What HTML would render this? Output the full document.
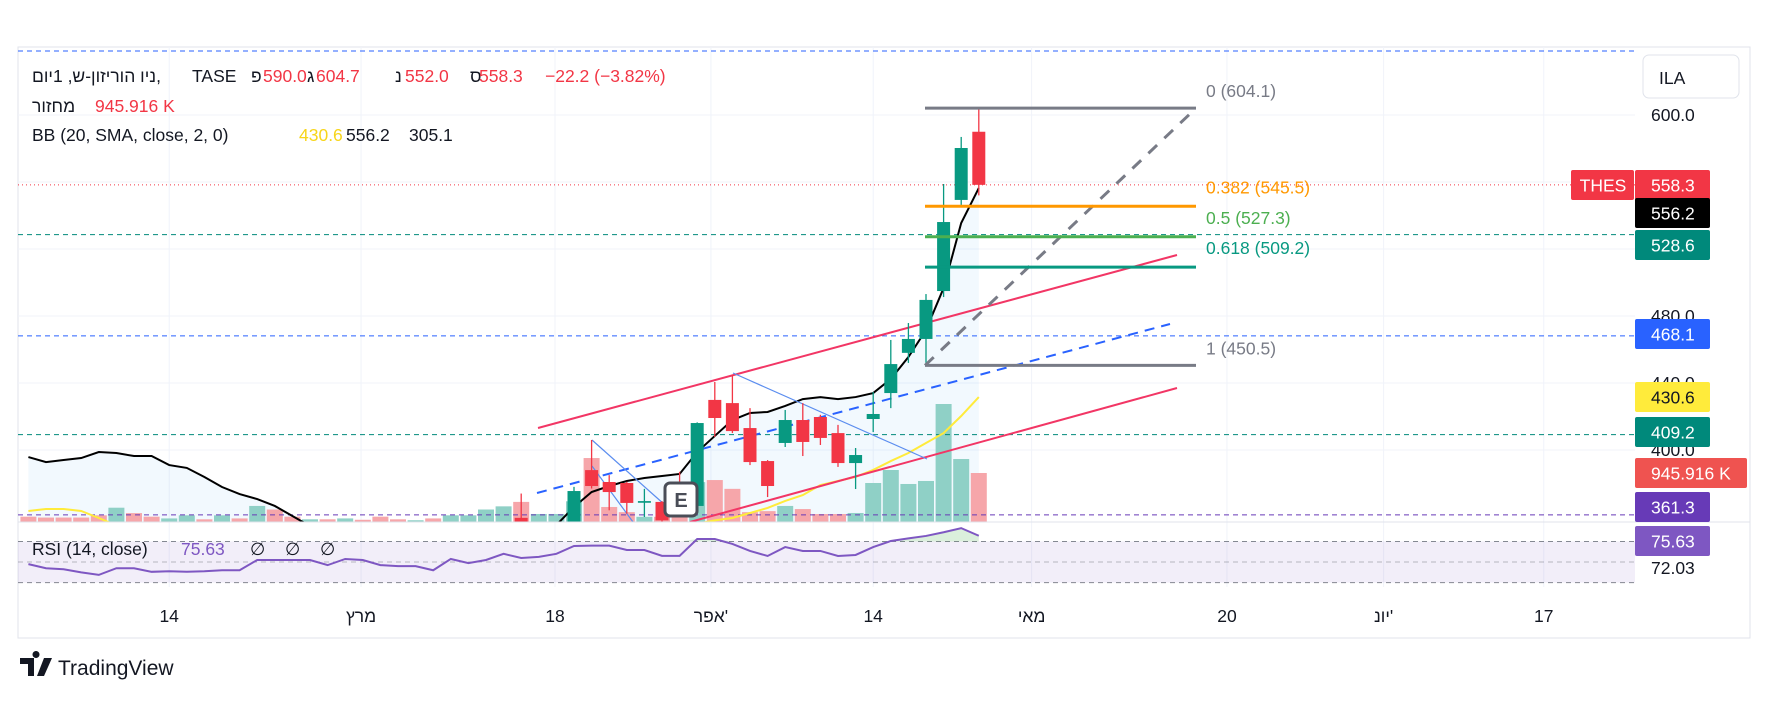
<!DOCTYPE html>
<html><head><meta charset="utf-8">
<style>
html,body{margin:0;padding:0;background:#fff;}
svg{display:block;font-family:"Liberation Sans","DejaVu Sans",sans-serif;}
</style></head>
<body>
<svg id="chart" width="1770" height="702" viewBox="0 0 1770 702" xmlns="http://www.w3.org/2000/svg">
<defs>
<clipPath id="mainClip"><rect x="18" y="47" width="1617" height="475"/></clipPath>
<clipPath id="rsiClip"><rect x="18" y="522" width="1617" height="65"/></clipPath>
</defs>
<rect x="18" y="47" width="1732" height="591" fill="#fff" stroke="#e0e3eb" stroke-width="1"/>
<g id="grid"></g>
<g id="rsiPane" clip-path="url(#rsiClip)"></g>
<g id="main" clip-path="url(#mainClip)"></g>
<line x1="18" y1="522" x2="1750" y2="522" stroke="#e0e3eb"/>
<g id="axis"></g>
<g id="timeAxis"></g>

<g font-size="17.5">
<text x="32" y="82" fill="#131722"><tspan>ניו הוריזון-ש, 1יום,</tspan><tspan x="192">TASE</tspan></text>
<text y="82" fill="#131722"><tspan x="251">פ</tspan><tspan x="263" fill="#f23645">590.0</tspan><tspan x="307">ג</tspan><tspan x="316" fill="#f23645">604.7</tspan><tspan x="395">נ</tspan><tspan x="405" fill="#f23645">552.0</tspan><tspan x="470">ס</tspan><tspan x="479" fill="#f23645">558.3</tspan><tspan x="545" fill="#f23645">−22.2 (−3.82%)</tspan></text>
<text x="32" y="112" fill="#131722">מחזור<tspan x="95" fill="#f23645">945.916 K</tspan></text>
<text x="32" y="141" fill="#131722">BB (20, SMA, close, 2, 0)<tspan x="299" fill="#f7d51a">430.6</tspan><tspan x="346">556.2</tspan><tspan x="409">305.1</tspan></text>
<text x="32" y="555" fill="#131722">RSI (14, close)<tspan x="181" fill="#7e57c2">75.63</tspan><tspan x="250">∅</tspan><tspan x="285">∅</tspan><tspan x="320">∅</tspan></text>
</g>

<g>
<path d="M20 658 h14 v18 h-6 v-12 h-8z M36 658 a3.5 3.5 0 1 1 0.01 0z M44 658 h8 l-8 18 h-7z" fill="#131722"/>
<text x="58" y="675" font-size="21" fill="#131722">TradingView</text>
</g>
</svg>
<script>
// ---- data ----
const opens  = [342,341,340,339,338,335,339,337,334,336,339,337,340,338,344,340,337,338,336,338,336,334,333,334,332,335,338,343,359.5,352,354,
  357,388,380.9,380.3,368.5,369,372,366.6,429.9,428,413.1,393.4,404.2,417.9,419.7,410.1,392.2,418.5,434,458,466.3,494.9,549.3,590];
const highs  = [344,343,342,341,340,341,341,339,338,341,341,342,342,346,346,342,340,340,340,340,338,336,336,336,337,340,345,352,374,356,356,
  378,406,385,381,376.8,369.5,387,416.5,440.6,444.8,425,394,423.9,428,421,415,401.2,434.6,465.7,475.8,493.1,558.8,586.9,604.7];
const lows   = [338,337,336,335,333,333,334,332,332,334,335,335,336,336,338,335,335,334,334,334,332,331,331,330,330,333,336,341,352,350,352,
  355,377,364,362,360,356,360,364,407.8,410.1,391,371.9,401.8,396.4,403,389.9,376.7,410.7,425,452,452,491.3,546.3,552];
const closes = [340,339,338,337,335,339,336,334,336,339,337,340,338,344,340,337,338,336,338,336,334,333,334,332,335,338,343,350,356,354,355,
  375.5,378.5,374.9,368.4,369.5,358,365,416.1,419.1,411.3,392.8,378.5,417.9,404.8,407.2,392.2,397,421.5,451.3,466.3,489.6,536.1,580.3,558.3];
const volumes = [103,86,86,86,129,276,172,103,69,129,52,129,69,310,241,103,52,52,69,43,103,52,34,69,129,129,241,302,388,155,155,
  400,1235,290,190,100,100,290,770,810,640,190,210,310,250,154,154,174,753,1004,734,792,2278,1216,946];
const bbUpper = [395.8,392.8,394,395.2,398.8,398.2,396.4,396.4,391,389.3,383.9,377.9,373.7,370.7,366.6,360.6,354.6,350,345,342,340,338,337,336,336,337,339,342,346,350,355.2,
  366,374.9,378.5,381.5,383.3,384.5,385.7,398.8,408.4,417.9,422.1,422.7,426.3,430.4,431.6,430.4,431.6,434,442.4,455.5,471.6,496.7,535.5,556.4];
const bbBasis = [363.6,364.8,364.8,363.6,359.4,355,352,349,347,345,343,341,340,339,338,337,336,335,335,334,334,334,334,335,335,336,337,338,339,340,342,344,346,348,350,352,354,355,356,
  358,359.4,362.4,365.4,369.6,373.1,379.1,381.5,383.9,388.1,393.4,398.2,404.2,410.1,420.3,431.6];
const rsiValues = [48,44,43,40,37.5,44,44,40.5,41,40.5,41,42,42,52,52,52,52,47,53,52,47,46,46,42,53,49,52,58,54,55,58,
  65.6,66,66,61.7,61.7,56,56,72.4,72.4,67.6,60.8,55.9,64.6,60.8,60.8,55.9,56.9,64.6,70.5,73,75.4,79,83,75.6];
const priceTicks = [600,560,520,480,440,400];
const priceTickLabels = ["600.0","","","480.0","440.0","400.0"];
const timeTickPos = [-23,-12.1,-1.08,7.78,17,26,37.1,46,55.1];
const timeTickLabels = ["14","מרץ","18","אפר'","14","מאי","20","יונ'","17"];
const fibLevels = [604.1,545.5,527.3,509.2,450.5];
const fibRatios = ["0","0.382","0.5","0.618","1"];
const tagValues = ["558.3","556.2","528.6","468.1","430.6","409.2","945.916 K","361.3","75.63"];
const levelLines = [528.6,468.1,409.2,361.3];

// ---- scales ----
const FIRST = -31;
const AX = 1635;
function xOf(k){ return 574 + 17.6*(k + FIRST); }
function xIdx(i){ return 574 + 17.6*i; }
function yP(p){ return 115 + (600 - p)*1.675; }
function yV(v){ return 522 - v*0.0518; }
function yR(r){ return 541.5 + (70 - r)*1.0275; }

const NS = "http://www.w3.org/2000/svg";
function mk(tag, attrs, parent){
  const e = document.createElementNS(NS, tag);
  for (const a in attrs) e.setAttribute(a, attrs[a]);
  parent.appendChild(e);
  return e;
}
const gridG = document.getElementById('grid');
const mainG = document.getElementById('main');
const rsiG = document.getElementById('rsiPane');
const axisG = document.getElementById('axis');
const tAx = document.getElementById('timeAxis');

// grid
priceTicks.forEach(p => {
  const l = mk('line', {x1:18, x2:AX, y1:yP(p), y2:yP(p), stroke:'#f0f3fa', 'stroke-width':1}, gridG);
  
  
});
timeTickPos.forEach((t, j) => {
  const l = mk('line', {x1:xIdx(t), x2:xIdx(t), y1:47, y2:587, stroke:'#f0f3fa', 'stroke-width':1}, gridG);
  
  
  const tx = mk('text', {x:xIdx(t), y:622, 'font-size':17.5, fill:'#131722', 'text-anchor':'middle'}, tAx);
  tx.textContent = timeTickLabels[j];
  
  
});

// RSI pane
const rb = mk('rect', {x:18, y:yR(70), width:AX-18, height:yR(30)-yR(70), fill:'#7e57c2', 'fill-opacity':0.1}, rsiG);


[70,50,30].forEach(v => {
  const l = mk('line', {x1:18, x2:AX, y1:yR(v), y2:yR(v), stroke:'#787b86', 'stroke-dasharray':'5 4', 'stroke-opacity':v===50?0.5:0.9}, rsiG);
  
  
});
{
  let pts = [];
  rsiValues.forEach((r,k)=>{ if (k>0 && (r>70 || rsiValues[k-1]>70 || (k<rsiValues.length-1 && rsiValues[k+1]>70))) pts.push([xOf(k), yR(Math.max(r,70))]); });
  if (pts.length) {
    let d = 'M' + pts[0][0] + ' ' + yR(70);
    pts.forEach(p => d += ' L' + p[0] + ' ' + p[1]);
    d += ' L' + pts[pts.length-1][0] + ' ' + yR(70) + ' Z';
    const f = mk('path', {d:d, fill:'#4caf50', 'fill-opacity':0.2}, rsiG);
    
    
  }
}
const rsiPath = mk('path', {d: rsiValues.map((r,k)=>(k?'L':'M')+xOf(k)+' '+yR(r)).join(' '), fill:'none', stroke:'#7e57c2', 'stroke-width':2}, rsiG);



// Bollinger fill
const bbLower = bbBasis.map((b,k)=> 2*b - bbUpper[k]);
let fd = bbUpper.map((u,k)=>(k?'L':'M')+xOf(k)+' '+yP(u)).join(' ');
for (let k = bbLower.length-1; k >= 0; k--) fd += ' L' + xOf(k) + ' ' + yP(bbLower[k]);
fd += ' Z';
const bbFill = mk('path', {d:fd, fill:'#2196f3', 'fill-opacity':0.06}, mainG);



// volume
volumes.forEach((v,k)=>{
  const up = closes[k] >= opens[k];
  const r = mk('rect', {x:xOf(k)-8, y:yV(v), width:16, height:522-yV(v), fill: up ? '#8fd0c6' : '#f6a6aa'}, mainG);
  
  
});

// horizontal level lines
const topLine = mk('line', {x1:18, x2:AX, y1:51, y2:51, stroke:'#2962ff', 'stroke-dasharray':'5 4', 'stroke-width':1}, mainG);


const lvlColors = ['#00897b','#2962ff','#00897b','#673ab7'];
levelLines.forEach((p,j)=>{
  const l = mk('line', {x1:18, x2:AX, y1:yP(p), y2:yP(p), stroke:lvlColors[j], 'stroke-dasharray':'5 4', 'stroke-width':1}, mainG);
  
  
});
const lastLine = mk('line', {x1:18, x2:AX, y1:yP(closes[closes.length-1]), y2:yP(closes[closes.length-1]), stroke:'#f23645', 'stroke-dasharray':'1 3', 'stroke-width':1}, mainG);



// BB lines
const basisLine = mk('path', {d: bbBasis.map((b,k)=>(k?'L':'M')+xOf(k)+' '+yP(b)).join(' '), fill:'none', stroke:'#ffeb3b', 'stroke-width':2}, mainG);


const upperLine = mk('path', {d: bbUpper.map((b,k)=>(k?'L':'M')+xOf(k)+' '+yP(b)).join(' '), fill:'none', stroke:'#000', 'stroke-width':2}, mainG);



// drawings
function seg(x1,y1,x2,y2,st,w,dash,name){
  const a = {x1:x1,y1:y1,x2:x2,y2:y2,stroke:st,'stroke-width':w};
  if (dash) a['stroke-dasharray'] = dash;
  const l = mk('line', a, mainG);
  
  
}
seg(538,428,1177,255,'#f23665',2,null,'channel-upper');
seg(690,522,1177,388,'#f23665',2,null,'channel-lower');
seg(537,493,1170,324,'#2962ff',2,'10 7','channel-mid-dashed');
seg(592,440,665,505,'#5b8def',1.2,null,'trend-line-thin');
seg(592,466,633,522,'#5b8def',1.2,null,'trend-line-thin-2');
seg(733,373,927,459,'#5b8def',1.2,null,'trend-line-thin-3');

// candles
opens.forEach((o,k)=>{
  const c = closes[k], up = c >= o, col = up ? '#089981' : '#f23645', x = xOf(k);
  const w = mk('line', {x1:x, x2:x, y1:yP(highs[k]), y2:yP(lows[k]), stroke:col, 'stroke-width':1.3}, mainG);
  
  
  const t = yP(Math.max(o,c)), b = yP(Math.min(o,c));
  const r = mk('rect', {x:x-6.5, y:t, width:13, height:Math.max(1.5,b-t), fill:col}, mainG);
  
  
});

// fib retracement
const fibColors = ['#787b86','#ff9800','#4caf50','#089981','#787b86'];
const fibX1 = 925, fibX2 = 1196;
seg(fibX1, yP(fibLevels[4]), fibX2, yP(fibLevels[0]), '#787b86', 3, '12 10', 'fib-trend-line');
fibLevels.forEach((p,j)=>{
  const l = mk('line', {x1:fibX1, x2:fibX2, y1:yP(p), y2:yP(p), stroke:fibColors[j], 'stroke-width':3}, mainG);
  
  
  const tx = mk('text', {x:1206, y:yP(p)-(j===0||j===4?11:13), 'font-size':17.5, fill:fibColors[j]}, mainG);
  tx.textContent = fibRatios[j] + ' (' + p.toFixed(1) + ')';
  
  
});

// earnings marker
const eb = mk('rect', {x:665, y:483, width:32, height:33, rx:5, fill:'#fff', stroke:'#4a4d57', 'stroke-width':3}, mainG);


const et = mk('text', {x:681, y:507, 'font-size':20, 'font-weight':'bold', fill:'#4a4d57', 'text-anchor':'middle'}, mainG);
et.textContent = 'E';



// price axis labels
priceTicks.forEach((p,j)=>{
  if (!priceTickLabels[j]) return;
  const tx = mk('text', {x:AX+16, y:yP(p)+6, 'font-size':17.5, fill:'#131722'}, axisG);
  tx.textContent = priceTickLabels[j];
  
  
});
const ila = mk('rect', {x:1643, y:55, width:96, height:43, rx:6, fill:'#fff', stroke:'#e0e3eb'}, axisG);


const ilt = mk('text', {x:1659, y:84, 'font-size':17.5, fill:'#131722'}, axisG);
ilt.textContent = 'ILA';



const tagCenters = [185,213,245,334,397,432,473,507,541];
const tagColors = ['#f23645','#000000','#00897b','#2962ff','#ffeb3b','#00897b','#ef5350','#673ab7','#7e57c2'];
const tagText = ['#fff','#fff','#fff','#fff','#131722','#fff','#fff','#fff','#fff'];
tagValues.forEach((v,j)=>{
  const wide = v.indexOf('K') >= 0;
  const r = mk('rect', {x:AX, y:tagCenters[j]-15, width: wide?112:75, height:30, rx:2, fill:tagColors[j]}, axisG);
  
  
  const tx = mk('text', {x:AX+16, y:tagCenters[j]+6.5, 'font-size':17.5, fill:tagText[j]}, axisG);
  tx.textContent = v;
  
  
});
const th = mk('rect', {x:AX-64, y:170, width:63, height:30, rx:2, fill:'#f23645'}, axisG);


const tht = mk('text', {x:AX-32, y:191.5, 'font-size':17.5, fill:'#fff', 'text-anchor':'middle'}, axisG);
tht.textContent = 'THES';


const r72 = mk('text', {x:AX+16, y:574, 'font-size':17.5, fill:'#131722'}, axisG);
r72.textContent = '72.03';


</script>
</body></html>
